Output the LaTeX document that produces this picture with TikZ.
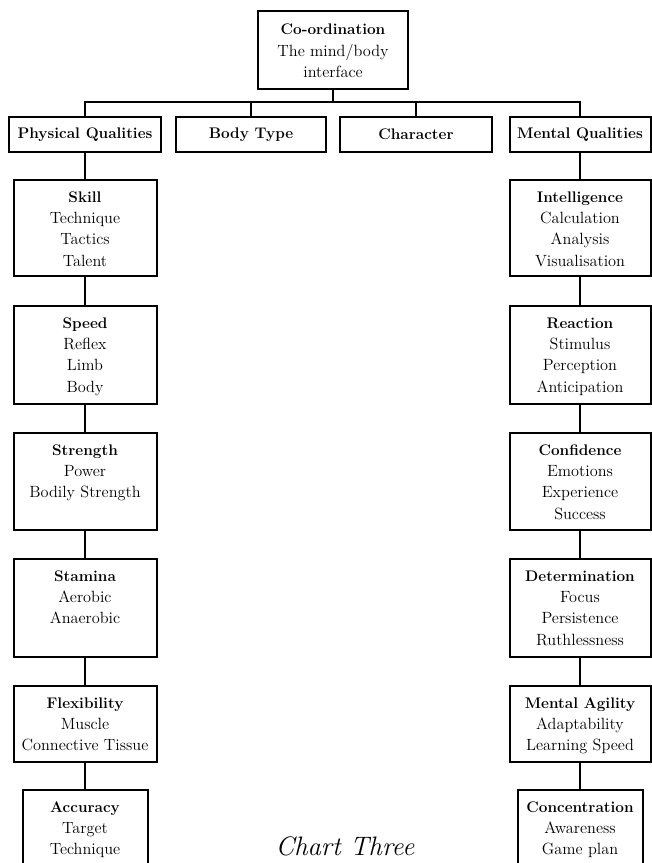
\documentclass[tikz,border=0pt]{standalone}
\usepackage{fontspec}
\newlength\px \setlength\px{0.75pt}
\newcommand\rg{\fontsize{12.2}{16.1}\selectfont}
\newcommand\bd{\fontsize{11.5}{16.1}\selectfont\bfseries}
\newcommand\cbox[5]{\parbox[t][#2\px][t]{#1\px}{\centering\rg\rule{0pt}{#3\px}{\bd #4}\\#5\par}}
\tikzset{
  qbox/.style={draw, line width=1.5pt, inner sep=0pt, anchor=north, fill=white},
  hbox/.style={qbox, minimum height=35\px, font=\bd},
  link/.style={line width=1.4pt},
  caption/.style={font=\fontsize{20}{24}\selectfont\itshape, anchor=base}
}
\begin{document}
\begin{tikzpicture}[x=0.75pt,y=-0.75pt]
\useasboundingbox (0,0) rectangle (652,863);
\clip (0,0) rectangle (652,863);
% top
\node[qbox] (coord) at (333,10) {\cbox{150}{78}{24}{Co-ordination}{The mind/body\\interface}};
\node[hbox, minimum width=152\px] (pq) at (85,116) {Physical Qualities};
\node[hbox, minimum width=150\px] (bt) at (251,116) {Body Type};
\node[hbox, minimum width=152\px] (ch) at (416,116) {Character};
\node[hbox, minimum width=141\px] (mq) at (580,116) {Mental Qualities};
% left column
\node[qbox] (skill) at (85,179) {\cbox{143}{96}{22}{Skill}{Technique\\Tactics\\Talent}};
\node[qbox] (speed) at (85,305) {\cbox{143}{98}{22}{Speed}{Reflex\\Limb\\Body}};
\node[qbox] (strength) at (85,432) {\cbox{143}{97}{22}{Strength}{Power\\Bodily Strength}};
\node[qbox] (stamina) at (85,558) {\cbox{143}{98}{22}{Stamina}{Aerobic\\Anaerobic}};
\node[qbox] (flex) at (85,685) {\cbox{143}{76}{22}{Flexibility}{Muscle\\Connective Tissue}};
\node[qbox] (accuracy) at (85,789) {\cbox{125}{110}{22}{Accuracy}{Target\\Technique}};
% right column
\node[qbox] (intel) at (580,179) {\cbox{141}{96}{22}{Intelligence}{Calculation\\Analysis\\Visualisation}};
\node[qbox] (reaction) at (580,305) {\cbox{141}{98}{22}{Reaction}{Stimulus\\Perception\\Anticipation}};
\node[qbox] (confidence) at (580,432) {\cbox{141}{97}{22}{Confidence}{Emotions\\Experience\\Success}};
\node[qbox] (determ) at (580,558) {\cbox{141}{98}{22}{Determination}{Focus\\Persistence\\Ruthlessness}};
\node[qbox] (agility) at (580,685) {\cbox{141}{76}{22}{Mental Agility}{Adaptability\\Learning Speed}};
\node[qbox] (concen) at (580,789) {\cbox{125}{110}{22}{Concentration}{Awareness\\Game plan}};
% tree connectors
\coordinate (bus) at (333,102);
\draw[link] (coord.south) -- (bus);
\draw[link] (pq.north) |- (bus) -| (mq.north);
\draw[link] (bt.north) -- (bt.north |- bus);
\draw[link] (ch.north) -- (ch.north |- bus);
% columns
\draw[link] (pq.south) -- (skill.north);
\draw[link] (skill.south) -- (speed.north);
\draw[link] (speed.south) -- (strength.north);
\draw[link] (strength.south) -- (stamina.north);
\draw[link] (stamina.south) -- (flex.north);
\draw[link] (flex.south) -- (accuracy.north);
\draw[link] (mq.south) -- (intel.north);
\draw[link] (intel.south) -- (reaction.north);
\draw[link] (reaction.south) -- (confidence.north);
\draw[link] (confidence.south) -- (determ.north);
\draw[link] (determ.south) -- (agility.north);
\draw[link] (agility.south) -- (concen.north);
% caption
\node[caption] (title) at (345,855) {Chart Three};
\end{tikzpicture}
\end{document}
